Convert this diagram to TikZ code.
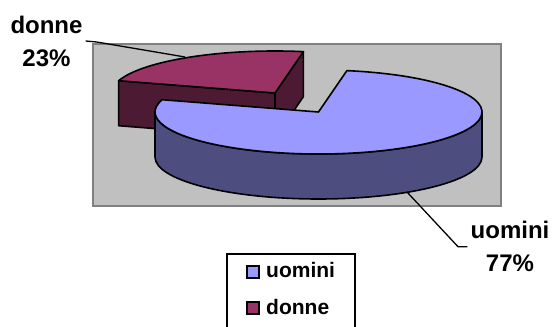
\documentclass[tikz,border=0pt]{standalone}
\usepackage{fontspec}
\setmainfont{Liberation Sans}
\usetikzlibrary{calc}
\definecolor{menTop}{RGB}{153,153,255}
\definecolor{menSide}{RGB}{77,77,128}
\definecolor{womTop}{RGB}{153,51,102}
\definecolor{womSide}{RGB}{77,26,51}
\definecolor{plotGray}{RGB}{192,192,192}
\definecolor{plotEdge}{RGB}{128,128,128}

\begin{document}
\begin{tikzpicture}[x=1pt,y=1pt,
    slice/.style={draw=black,line width=1.6pt,line join=round},
    leader/.style={draw=black,line width=1.3pt},
    pctlabel/.style={font=\bfseries\fontsize{24}{33}\selectfont,align=center,inner sep=0pt},
    legtext/.style={font=\bfseries\fontsize{21}{25}\selectfont,anchor=base west,inner sep=0pt},
    legkey/.style={draw=black,line width=1.3pt,minimum size=12pt,inner sep=0pt}]
  \useasboundingbox (0,0) rectangle (555,327);
  \coordinate (c1) at (318.5,215);
  \coordinate (c2) at (275,234);
  % plot area
  \draw [plotEdge,fill=plotGray,line width=2pt] (93,121) rectangle (501,283);
  % donne slice, pulled out
  \draw [slice,fill=womSide] (c2) -- ($(c2)+(163:163.5pt and 42pt)$) -- ++(0,-45) -- ($(c2)+(0,-45)$) -- cycle;
  \draw [slice,fill=womSide] (c2) -- ($(c2)+(80:163.5pt and 42pt)$) -- ++(0,-45) -- ($(c2)+(0,-45)$) -- cycle;
  \draw [slice,fill=womTop] (c2) -- ($(c2)+(80:163.5pt and 42pt)$)
    arc [start angle=80,end angle=163,x radius=163.5pt,y radius=42pt] -- cycle;
  % uomini slice
  \draw [slice,fill=menSide] ($(c1)+(163.5,0)$)
    arc [start angle=0,end angle=-180,x radius=163.5pt,y radius=42pt] -- ++(0,-45)
    arc [start angle=180,end angle=360,x radius=163.5pt,y radius=42pt] -- cycle;
  \draw [slice,fill=menTop] (c1) -- ($(c1)+(80:163.5pt and 42pt)$)
    arc [start angle=80,end angle=-197,x radius=163.5pt,y radius=42pt] -- cycle;
  % labels
  \node [pctlabel] (lblW) at (46.5,286) {donne\\23\%};
  \node [pctlabel] (lblM) at (510,80.3) {uomini\\77\%};
  \coordinate (wTip) at (185,270);
  \coordinate (mTip) at (407,135);
  \draw [leader] ([xshift=3pt]lblW.east) -- ++(11,-1) -- (wTip);
  \draw [leader] (mTip) -- (458,80.3) -- ([xshift=-3pt]lblM.west);
  % legend
  \draw [line width=1.6pt] (227,73) rectangle (355,-10);
  \node [legkey,fill=menTop] (keyM) at (253,55) {};
  \node [legtext] (txtM) at (266,49) {uomini};
  \node [legkey,fill=womTop] (keyW) at (253,19) {};
  \node [legtext] (txtW) at (266,12) {donne};
\end{tikzpicture}
\end{document}
